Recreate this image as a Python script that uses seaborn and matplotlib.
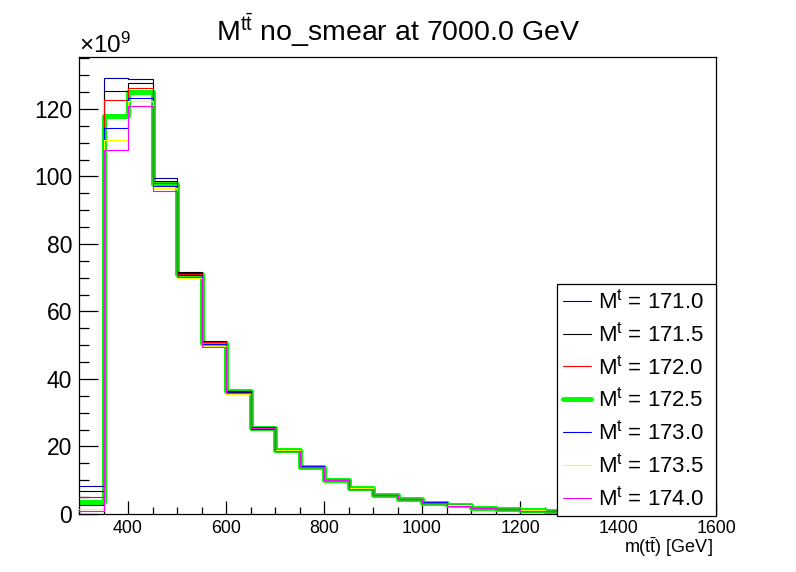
import numpy as np
import pandas as pd
import seaborn as sns
import matplotlib
matplotlib.use("Agg")
import matplotlib.pyplot as plt
from matplotlib.lines import Line2D
from matplotlib.ticker import MultipleLocator

sns.set_style("white")
plt.rcParams['font.family'] = ['Liberation Sans', 'DejaVu Sans']
plt.rcParams['mathtext.fontset'] = 'custom'
plt.rcParams['mathtext.rm'] = 'Liberation Sans'
plt.rcParams['mathtext.it'] = 'Liberation Sans'
plt.rcParams['mathtext.bf'] = 'Liberation Sans'
plt.rcParams['text.color'] = 'black'
plt.rcParams['axes.labelcolor'] = 'black'
plt.rcParams['xtick.color'] = 'black'
plt.rcParams['ytick.color'] = 'black'

# bin lower edges in GeV (bin width 50)
bin_edges = list(range(300, 1550, 50))  # 300 ... 1500
masses = ["171.0", "171.5", "172.0", "172.5", "173.0", "173.5", "174.0"]
colors = ["#000099", "#000000", "#ff0000", "#00ff00", "#0000ff", "#ffff00", "#ff00ff"]

# values in units of 1e9
v171_0 = [8.2, 129.1, 128.8, 99.5, 71.4, 51.0, 36.2, 25.3, 18.8, 13.8, 10.0, 7.5, 5.5, 4.3, 3.4, 2.6, 1.8, 1.4, 1.0, 0.75, 0.6, 0.45, 0.35, 0.25, 0.2]
v171_5 = [6.8, 125.3, 127.6, 98.8, 71.6, 51.2, 36.4, 25.4, 18.9, 13.9, 10.0, 7.5, 5.5, 4.3, 3.4, 2.6, 1.8, 1.4, 1.0, 0.75, 0.6, 0.45, 0.35, 0.25, 0.2]
v172_0 = [4.9, 122.6, 126.1, 98.2, 71.2, 50.9, 36.4, 25.5, 19.0, 13.9, 10.1, 7.6, 5.6, 4.4, 3.4, 2.6, 1.8, 1.4, 1.1, 0.75, 0.6, 0.45, 0.35, 0.25, 0.2]
v172_5 = [3.5, 118.0, 124.9, 97.7, 71.0, 50.6, 36.5, 25.6, 19.0, 14.0, 10.1, 7.6, 5.6, 4.4, 3.4, 2.6, 1.8, 1.4, 1.1, 0.75, 0.6, 0.45, 0.35, 0.25, 0.2]
v173_0 = [2.6, 114.3, 123.4, 97.3, 70.8, 50.3, 36.5, 25.7, 19.1, 14.1, 10.2, 7.7, 5.7, 4.5, 3.5, 2.7, 1.9, 1.5, 1.1, 0.8, 0.6, 0.45, 0.35, 0.25, 0.2]
v173_5 = [1.4, 110.7, 122.5, 96.5, 69.8, 49.8, 35.6, 25.4, 19.0, 14.0, 10.1, 7.6, 5.6, 4.4, 3.4, 2.6, 1.8, 1.4, 1.1, 0.75, 0.6, 0.45, 0.35, 0.25, 0.2]
v174_0 = [0.8, 107.7, 120.8, 95.7, 70.1, 49.6, 35.9, 25.5, 18.8, 13.8, 10.0, 7.5, 5.5, 4.3, 3.3, 2.5, 1.8, 1.4, 1.0, 0.75, 0.6, 0.45, 0.35, 0.25, 0.2]
series = [v171_0, v171_5, v172_0, v172_5, v173_0, v173_5, v174_0]

x_ticks = [400, 600, 800, 1000, 1200, 1400, 1600]
y_ticks = [0, 20, 40, 60, 80, 100, 120]

W, H = 796, 572
fig = plt.figure(figsize=(W / 100, H / 100), dpi=100)
ax = fig.add_axes([79 / W, 1 - 514 / H, (716 - 79) / W, (514 - 57) / H])

edges = [float(e) for e in bin_edges] + [float(bin_edges[-1] + 50)]
centers = [e + 25.0 for e in bin_edges]

THICK = 3.6
THIN = 0.8
order = [3, 0, 1, 2, 4, 5, 6]
for i in order:
    df = pd.DataFrame({"mtt": centers, "w": series[i]})
    lw = THICK if masses[i] == "172.5" else THIN
    sns.histplot(data=df, x="mtt", weights="w", bins=edges, element="step",
                 fill=False, color=colors[i], linewidth=lw, ax=ax,
                 zorder=2 if masses[i] == "172.5" else 3)

ax.set_xlim(300, 1600)
ax.set_ylim(0, 135.4)
ax.set_xticks(x_ticks)
ax.set_yticks(y_ticks)
ax.xaxis.set_minor_locator(MultipleLocator(50))
ax.yaxis.set_minor_locator(MultipleLocator(5))
ax.tick_params(axis='x', which='major', direction='in', length=9.5, width=0.9,
               labelsize=12.8, pad=4, colors='black')
ax.tick_params(axis='x', which='minor', direction='in', length=5, width=0.9)
ax.tick_params(axis='y', which='major', direction='in', length=14, width=0.9,
               labelsize=16.5, pad=5, colors='black')
ax.tick_params(axis='y', which='minor', direction='in', length=7, width=0.9)
ax.tick_params(bottom=True, left=True, top=False, right=False, which='both')
for s in ax.spines.values():
    s.set_color('black')
    s.set_linewidth(0.9)
ax.set_xlabel("")
ax.set_ylabel("")

fig.text(79 / W, 1 - 53 / H, r"$\times$10$^{9}$", fontsize=17.5, ha='left',
         va='baseline', color='black')
fig.text(0.5, 1 - 41 / H, r"M$^{\mathrm{t\bar{t}}}$ no_smear at 7000.0 GeV",
         fontsize=20.5, ha='center', va='baseline', color='black')
fig.text(713 / W, 1 - 553 / H, r"m(t$\mathrm{\bar{t}}$) [GeV]", fontsize=13,
         ha='right', va='baseline', color='black')

handles = []
for i in range(len(masses)):
    lw = THICK if masses[i] == "172.5" else THIN
    handles.append(Line2D([0], [0], color=colors[i], linewidth=lw))
labels = [r"M$^{\mathrm{t}}$ = " + m for m in masses]
leg = ax.legend(handles, labels, loc='center',
                bbox_to_anchor=(557 / W, 1 - 514 / H, (716 - 557) / W, (514 - 286) / H),
                bbox_transform=fig.transFigure, mode='expand', borderaxespad=0,
                fontsize=16, frameon=True, fancybox=False, framealpha=1,
                edgecolor='black', handlelength=1.3, handletextpad=0.3,
                labelspacing=0.4, borderpad=0.25, labelcolor='black')
leg.get_frame().set_linewidth(0.9)
leg.set_zorder(10)

fig.savefig("out.png", dpi=100)
